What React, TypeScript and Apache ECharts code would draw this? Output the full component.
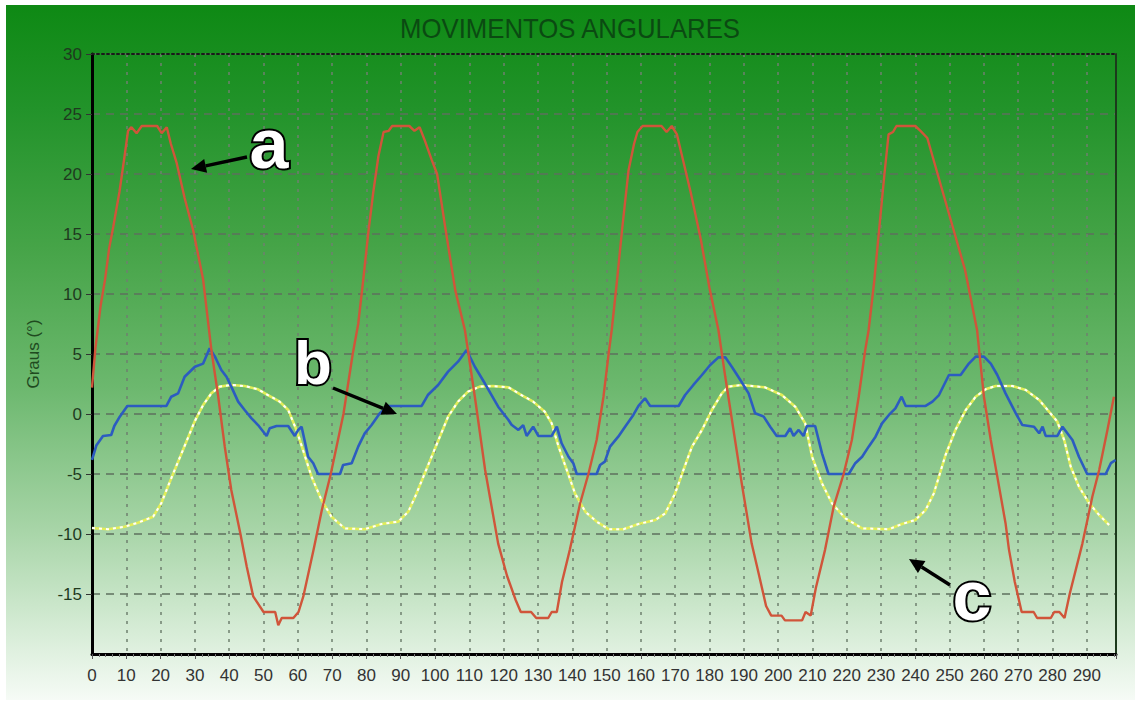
import React, { useEffect, useRef } from "react";
import * as echarts from "echarts";

const TITLE = "MOVIMENTOS ANGULARES";
const Y_NAME = "Graus (°)";
const X_MIN = 0;
const X_MAX = 298.5;
const X_STEP = 10;
const Y_MIN = -20;
const Y_MAX = 30;
const Y_STEP = 5;

// a — red
const seriesA: [number, number][] = [
  [0, 2.2], [1, 5.5], [2.5, 9], [3.8, 11.2], [5, 13.8], [6.2, 15.6], [8, 18.5], [9.5, 21.5], [10.5, 23.6],
  [11.5, 23.9], [13, 23.4], [14.5, 24], [19, 24], [20.3, 23.4], [21.8, 23.9], [23, 22.5], [24.7, 20.9],
  [27, 18], [29.5, 15.3], [32.4, 11.2], [34.8, 5.33], [36.8, 1.44], [38.7, -2.72], [40.6, -6.33],
  [43.2, -9.9], [45.1, -12.7], [47, -15.2], [50, -16.5], [53.4, -16.5], [54.3, -17.6], [55.3, -17],
  [58.7, -17], [60.2, -16.5], [61.6, -15.2], [64.6, -11.3], [67, -8], [69.6, -5], [73.3, 0], [76, 5],
  [77.6, 7.5], [79, 11], [80.5, 15], [82, 18.5], [83.5, 21.5], [85, 23.5], [86.5, 23.6], [87.5, 24],
  [92.5, 24], [94, 23.6], [95.5, 23.9], [97, 22.8], [99, 21.2], [100.6, 20], [103, 15.5], [105.9, 10.3],
  [108.7, 7], [111.6, 1.44], [114.6, -4.67], [118.4, -10.8], [121, -13.5], [123.5, -15.5], [125, -16.5],
  [128, -16.5], [129.5, -17], [133, -17], [134, -16.5], [135.5, -16.5], [137, -14], [139.3, -11.3],
  [142.3, -7.44], [144.7, -5], [147.1, -2.17], [149.1, 1.44], [150.5, 4.78], [151.5, 7], [153, 11],
  [154.5, 15.3], [156.4, 20.3], [158, 22.5], [159, 23.5], [160.5, 24], [166, 24], [167.5, 23.5],
  [169, 24], [170.5, 23.3], [172, 21.5], [174.5, 18.5], [177.5, 14.5], [180, 10.5], [182.6, 7],
  [184.6, 3.1], [187, -1.33], [189.4, -5.78], [192.3, -10.8], [194.5, -13.5], [196.5, -16], [198, -16.8],
  [201, -16.8], [202, -17.2], [207, -17.2], [208, -16.5], [209.5, -16.8], [211, -14.5], [213.7, -11.3],
  [216.2, -7.72], [219.1, -5], [221.5, -2.17], [223.5, 1.44], [225.4, 5.33], [226.4, 7], [228, 11],
  [229.5, 15.5], [231, 20], [232.2, 23.3], [233.5, 23.5], [234.5, 24], [240, 24], [241.5, 23.6],
  [243.5, 23], [245, 21.5], [247.5, 19], [250.5, 16], [254.5, 12], [258, 7], [260, 1.44], [262, -2.17],
  [263.9, -5.22], [266.3, -9.1], [267.3, -11.3], [269, -14], [271, -16.5], [274.5, -16.5], [275.5, -17],
  [279.5, -17], [280.5, -16.5], [282, -16.5], [283.5, -17], [285, -15], [288.7, -10.8], [291.6, -6.9],
  [293.6, -4.67], [296, -1.33], [297.9, 1.44],
];

// b — blue
const seriesB: [number, number][] = [
  [0, -3.83], [1.3, -2.6], [3.2, -1.83], [5.6, -1.75], [6.5, -1], [8.1, -0.22], [10.3, 0.67], [21.7, 0.67],
  [23.1, 1.44], [25.1, 1.72], [27, 3.1], [30, 3.94], [32.4, 4.2], [34.3, 5.47], [35.8, 4.8], [37.7, 3.67],
  [39.2, 3.1], [40.6, 2.28], [42.6, 1.03], [44.5, 0.33], [46.5, -0.36], [48.4, -0.92], [50.9, -1.83],
  [51.8, -1.19], [53.8, -1], [57.2, -1], [59.1, -1.83], [60.1, -1.33], [61.1, -1.06], [63, -3.56],
  [64.5, -4.1], [65.9, -5], [72.3, -5], [73.2, -4.25], [75.7, -4.1], [77.6, -2.72], [79.5, -1.61],
  [81.5, -0.92], [83.9, 0.06], [86.3, 0.67], [96.1, 0.67], [97.9, 1.58], [100.9, 2.42], [103.8, 3.53],
  [106.7, 4.36], [109.2, 5.33], [111.6, 3.94], [114.5, 2.56], [118.4, 0.61], [121.4, -0.5], [122.3, -0.9],
  [124.3, -1.33], [125.7, -0.92], [126.7, -1.83], [128.6, -1.06], [130.1, -1.83], [134, -1.83],
  [135.5, -1.06], [136.9, -2.44], [138.9, -3.56], [140.3, -4.1], [141.3, -5], [147.1, -5], [148.1, -4.25],
  [149.5, -3.97], [151, -2.72], [153.4, -1.89], [155.4, -1.06], [157.8, -0.08], [159.3, 0.67],
  [161.2, 1.31], [162.7, 0.67], [171, 0.67], [172.9, 1.58], [175.3, 2.42], [177.8, 3.25], [180.2, 4.08],
  [182.6, 4.72], [184.6, 4.72], [186.5, 3.94], [189, 2.83], [191.4, 1.72], [193.3, 0.06], [195.8, -0.22],
  [197.7, -1.06], [199.6, -1.83], [202.1, -1.83], [203.5, -1.19], [204.5, -1.83], [206, -1.33],
  [207.4, -1.83], [208.4, -1], [210.8, -1], [212.8, -3.28], [214.7, -5], [220.6, -5], [222.5, -4.1],
  [224.5, -3.56], [226.4, -2.72], [228.4, -1.89], [230.3, -0.78], [232.3, -0.08], [234.2, 0.47],
  [236, 1.44], [237.2, 0.67], [243, 0.67], [245, 1.03], [246.9, 1.58], [249.8, 3.25], [253.2, 3.25],
  [255.6, 4.2], [257.6, 4.78], [260, 4.78], [262, 4.2], [263.9, 3.25], [266.3, 1.72], [269.3, 0.06],
  [271.2, -0.92], [274.6, -1.06], [276.1, -1.61], [277.1, -1.06], [278, -1.83], [281.4, -1.83],
  [282.9, -1.06], [285.8, -2.17], [287.7, -3.56], [290.1, -5], [295.5, -5], [297, -4.1], [298.4, -3.83],
];

// c — yellow
const seriesC: [number, number][] = [
  [0, -9.5], [4.7, -9.6], [9.5, -9.39], [13.4, -9.06], [17.8, -8.56], [20.2, -7.44], [22.7, -5.64],
  [25.1, -3.97], [27.5, -2.31], [29.9, -0.64], [32.4, 0.75], [34.8, 1.72], [37.2, 2.28], [40.6, 2.42],
  [44.5, 2.33], [48.4, 2.06], [51.3, 1.58], [54.7, 1.03], [57.2, 0.33], [59.6, -1.33], [61.5, -3],
  [64, -5.22], [66.9, -7.17], [69.8, -8.56], [73.7, -9.53], [79.5, -9.6], [84.4, -9.17], [89.3, -8.97],
  [92.2, -8.14], [94.2, -6.89], [96.6, -5.22], [99, -3.56], [101.4, -1.89], [103.8, -0.22], [106.7, 1.03],
  [109.6, 1.86], [113, 2.28], [116.9, 2.33], [121.4, 2.22], [125.2, 1.58], [128.6, 1.03], [132, 0.19],
  [134, -0.78], [136, -2.72], [138.4, -4.67], [140.8, -6.61], [143.8, -8.14], [147.1, -8.97], [150.6, -9.6],
  [154.9, -9.6], [159.3, -9.17], [164.2, -8.83], [167.1, -8.28], [170, -6.61], [172.4, -4.67],
  [174.9, -2.72], [177.8, -1.33], [180.7, 0.33], [183.6, 1.72], [185.5, 2.28], [189.4, 2.42],
  [196.2, 2.22], [201.1, 1.58], [205, 0.61], [207.9, -0.78], [209.9, -3.56], [212.8, -5.78],
  [215.7, -7.44], [219.6, -8.69], [224.5, -9.53], [232.3, -9.6], [236.1, -9.17], [240, -8.83], [243, -8],
  [245.4, -6.61], [248.8, -3.42], [251.7, -1.33], [254.7, 0.33], [257.6, 1.44], [260.5, 2.06],
  [263.4, 2.33], [268.3, 2.33], [272.2, 2], [276.1, 1.17], [279, 0.19], [281.4, -0.64], [283.4, -2.17],
  [285.3, -4.39], [287.7, -6.06], [290.7, -7.44], [293.6, -8.42], [296.5, -9.25],
];

const FONT = "'Liberation Sans', Arial, sans-serif";

function arrow(x1: number, y1: number, x2: number, y2: number, head = 15, half = 7) {
  const dx = x2 - x1;
  const dy = y2 - y1;
  const len = Math.hypot(dx, dy);
  const ux = dx / len;
  const uy = dy / len;
  const bx = x2 - ux * head;
  const by = y2 - uy * head;
  const px = -uy;
  const py = ux;
  return [
    { type: "line", z: 100, silent: true, shape: { x1, y1, x2: bx, y2: by }, style: { stroke: "#000", lineWidth: 3.5 } },
    {
      type: "polygon",
      z: 100,
      silent: true,
      shape: { points: [[x2, y2], [bx + px * half, by + py * half], [bx - px * half, by - py * half]] },
      style: { fill: "#000" },
    },
  ];
}

function letter(t: string, x: number, y: number, size: number) {
  return {
    type: "text",
    z: 101,
    silent: true,
    x,
    y,
    style: {
      text: t,
      fontSize: size,
      fontWeight: 900,
      fontFamily: FONT,
      fill: "#ffffff",
      stroke: "#000000",
      lineWidth: 4,
      textAlign: "center",
      textVerticalAlign: "middle",
    },
  };
}

export default function App() {
  const ref = useRef<HTMLDivElement>(null);
  useEffect(() => {
    if (!ref.current) return;
    const chart = echarts.init(ref.current, undefined, { renderer: "svg" });
    const option: any = {
      animation: false,
      backgroundColor: "#ffffff",
      grid: { left: 92, right: 24, top: 54, bottom: 48, containLabel: false },
      graphic: [
        {
          type: "rect",
          z: -100,
          silent: true,
          shape: { x: 6, y: 5, width: 1129, height: 695 },
          style: {
            fill: new echarts.graphic.LinearGradient(0, 0, 0, 1, [
              { offset: 0, color: "#0e8914" },
              { offset: 0.15, color: "#22932a" },
              { offset: 0.35, color: "#46a448" },
              { offset: 0.55, color: "#6cb86e" },
              { offset: 0.75, color: "#a6d4a6" },
              { offset: 0.9, color: "#d6ecd6" },
              { offset: 1, color: "#f6fbf6" },
            ]),
          },
        },
        {
          type: "text",
          z: 50,
          silent: true,
          x: 570,
          y: 29,
          scaleX: 0.92,
          style: {
            text: TITLE,
            fontSize: 28,
            fontFamily: FONT,
            fill: "#0b4a12",
            textAlign: "center",
            textVerticalAlign: "middle",
          },
        },
        ...arrow(247, 157, 191, 169),
        letter("a", 269, 144, 70),
        ...arrow(333, 388, 397, 414),
        letter("b", 313, 362, 62),
        ...arrow(950, 585, 909, 559),
        letter("c", 972, 596, 70),
      ],
      xAxis: [
        {
          type: "value",
          min: X_MIN,
          max: X_MAX,
          interval: X_STEP,
          position: "bottom",
          axisLine: { show: true, onZero: false, lineStyle: { color: "#000", width: 3 } },
          axisTick: { show: true, length: 5, lineStyle: { color: "#555" } },
          minorTick: { show: true, splitNumber: 5, length: 3, lineStyle: { color: "#777" } },
          axisLabel: { margin: 13, fontSize: 17, color: "#333", fontFamily: FONT, showMaxLabel: false, showMinLabel: true },
          splitLine: { show: true, lineStyle: { color: "#6f806f", type: [3, 6], width: 1.5 } },
        },
        {
          type: "value",
          min: X_MIN,
          max: X_MAX,
          position: "top",
          axisLine: { show: true, onZero: false, lineStyle: { color: "#1a1a1a", type: [2, 3], width: 2 } },
          axisTick: { show: false },
          axisLabel: { show: false },
          splitLine: { show: false },
        },
      ],
      yAxis: [
        {
          type: "value",
          min: Y_MIN,
          max: Y_MAX,
          interval: Y_STEP,
          axisLine: { show: true, onZero: false, lineStyle: { color: "#000", width: 3 } },
          axisTick: { show: true, length: 6, lineStyle: { color: "#333" } },
          axisLabel: { margin: 10, fontSize: 17, color: "#1f3a1f", fontFamily: FONT, showMinLabel: false, showMaxLabel: true },
          splitLine: { show: true, lineStyle: { color: "#5e705e", type: [8, 6], width: 1.5 } },
          name: Y_NAME,
          nameLocation: "middle",
          nameGap: 50,
          nameRotate: 90,
          nameTextStyle: { fontSize: 17, color: "#1f4a1f", fontFamily: FONT },
        },
        {
          type: "value",
          min: Y_MIN,
          max: Y_MAX,
          position: "right",
          axisLine: { show: true, onZero: false, lineStyle: { color: "#1c3a1c", width: 2 } },
          axisTick: { show: false },
          axisLabel: { show: false },
          splitLine: { show: false },
        },
      ],
      series: [
        {
          name: "c",
          type: "line",
          data: seriesC,
          showSymbol: false,
          z: 3,
          lineStyle: { color: "#e2ee58", width: 2.6 },
        },
        {
          name: "c-dash",
          type: "line",
          data: seriesC,
          showSymbol: false,
          z: 4,
          lineStyle: { color: "#ffffff", width: 2, type: [3, 4] },
        },
        {
          name: "b",
          type: "line",
          data: seriesB,
          showSymbol: false,
          z: 5,
          lineStyle: { color: "#2c5cc0", width: 2.6 },
        },
        {
          name: "a",
          type: "line",
          data: seriesA,
          showSymbol: false,
          z: 6,
          lineStyle: { color: "#d0553a", width: 2.4 },
        },
      ],
    };
    chart.setOption(option);
    return () => chart.dispose();
  }, []);
  return (
    <div
      ref={ref}
      style={{ position: "fixed", left: 0, top: 0, width: 1140, height: 702 }}
    />
  );
}
